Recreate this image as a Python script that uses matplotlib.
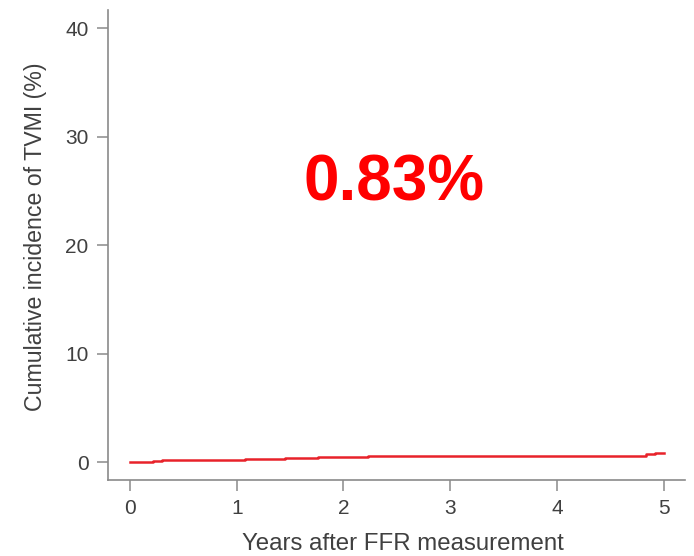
import matplotlib
matplotlib.use("Agg")
import matplotlib.pyplot as plt

# step points of the cumulative incidence curve (years, %)
years = [0.0, 0.22, 0.30, 1.08, 1.45, 1.76, 2.23, 4.83, 4.92, 5.0]
incidence = [0.0, 0.10, 0.17, 0.30, 0.40, 0.50, 0.60, 0.75, 0.83, 0.83]

x_ticks = [0, 1, 2, 3, 4, 5]
y_ticks = [0, 10, 20, 30, 40]
headline = "0.83%"

plt.rcParams['font.family'] = ['Liberation Sans', 'DejaVu Sans']

fig = plt.figure(figsize=(6.94, 5.56), dpi=100)
ax = fig.add_axes([108 / 694, 1 - 480 / 556, (685 - 108) / 694, (480 - 10) / 556])

ax.step(years, incidence, where='post', color='#e8222a', lw=1.8)

ax.set_xlim(-0.206, 5.2)
ax.set_ylim(-1.66, 41.7)
ax.set_xticks(x_ticks)
ax.set_yticks(y_ticks)

for side in ['top', 'right']:
    ax.spines[side].set_visible(False)
for side in ['left', 'bottom']:
    ax.spines[side].set_color('#8a8a8a')
    ax.spines[side].set_linewidth(1.2)

ax.tick_params(colors='#8a8a8a', labelcolor='#404040', labelsize=15, length=8, width=1.1, pad=6)
ax.set_xlabel('Years after FFR measurement', fontsize=17.3, color='#404040')
ax.set_ylabel('Cumulative incidence of TVMI (%)', fontsize=16.7, color='#404040', labelpad=13)
ax.xaxis.set_label_coords(0.511, -0.113)
ax.yaxis.label.set_y(0.517)

ax.text(0.496, 0.63, headline, transform=ax.transAxes, ha='center', va='center',
        fontsize=46, fontweight='bold', color='#ff0000')

fig.savefig('out.png', dpi=100)
